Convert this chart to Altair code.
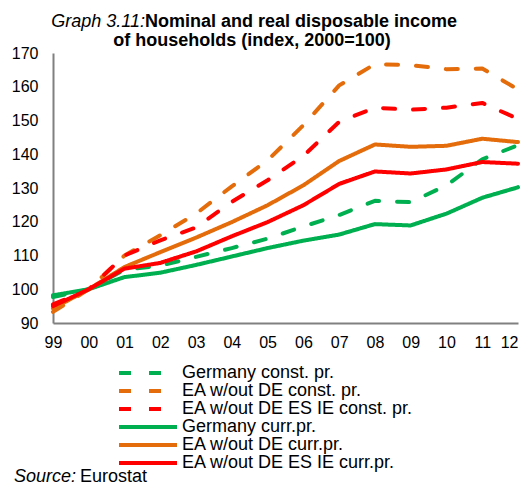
import altair as alt
import pandas as pd

years = ["99", "00", "01", "02", "03", "04", "05", "06", "07", "08", "09", "10", "11", "12"]

series_names = [
    "Germany const. pr.",
    "EA w/out DE const. pr.",
    "EA w/out DE ES IE const. pr.",
    "Germany curr.pr.",
    "EA w/out DE curr.pr.",
    "EA w/out DE ES IE curr.pr.",
]

de_const = [97.7, 100, 105.8, 107.0, 109.6, 112.2, 115.0, 118.6, 122.0, 126.2, 125.8, 130.8, 138.5, 142.7]
ea_const = [93.3, 100, 110.0, 116.0, 122.4, 130.5, 138.2, 148.6, 160.4, 166.7, 166.4, 165.2, 165.4, 159.2]
ea_x_const = [95.5, 100, 110.0, 114.5, 118.3, 125.9, 132.3, 139.5, 149.6, 153.8, 153.2, 153.8, 155.2, 150.5]
de_curr = [98.2, 100, 103.6, 104.9, 107.2, 109.7, 112.2, 114.4, 116.2, 119.3, 118.9, 122.4, 127.1, 130.2]
ea_curr = [94.3, 100, 106.6, 111.0, 115.3, 119.9, 124.9, 130.8, 138.0, 142.9, 142.2, 142.5, 144.6, 143.6]
ea_x_curr = [95.0, 100, 106.1, 107.8, 111.2, 115.7, 119.9, 124.9, 131.2, 134.9, 134.3, 135.5, 137.7, 137.2]

colors = ["#00B050", "#E46C0A", "#FF0000", "#00B050", "#E46C0A", "#FF0000"]
dashes = [[12, 18], [12, 18], [12, 18], [1, 0], [1, 0], [1, 0]]

title_italic = "Graph 3.11:"
title_bold_1 = "Nominal and real disposable income"
title_bold_2 = "of households (index, 2000=100)"
source_italic = "Source:"
source_text = "Eurostat"

all_values = [de_const, ea_const, ea_x_const, de_curr, ea_curr, ea_x_curr]
rows = []
for k, (name, vals) in enumerate(zip(series_names, all_values)):
    for yr, v in zip(years, vals):
        rows.append({"year": yr, "series": name, "value": v, "order": k})
df = pd.DataFrame(rows)

FONT = "Liberation Sans, Arial, sans-serif"

lines = alt.Chart(df).mark_line(strokeWidth=4, strokeCap="round", strokeJoin="round").encode(
    x=alt.X("year:O", sort=years, scale=alt.Scale(type="point", padding=0),
            axis=alt.Axis(title=None, ticks=False, grid=False, labelAngle=0,
                          labelFontSize=16, labelFont=FONT, labelColor="black",
                          labelPadding=11, domainColor="#808080", domainWidth=2,
                          labelAlign=alt.condition("datum.value == '12'", alt.value("right"), alt.value("center")))),
    y=alt.Y("value:Q", scale=alt.Scale(domain=[90, 170], nice=False, zero=False),
            axis=alt.Axis(title=None, ticks=False, grid=False, values=list(range(90, 171, 10)),
                          labelFontSize=16, labelFont=FONT, labelColor="black",
                          labelPadding=15, domainColor="#808080", domainWidth=2)),
    color=alt.Color("series:N", scale=alt.Scale(domain=series_names, range=colors),
                    legend=alt.Legend(title=None, orient="none", legendX=64, legendY=311,
                                      symbolType="stroke", symbolSize=3364, symbolStrokeWidth=4,
                                      labelFontSize=18, labelFont=FONT, labelColor="black",
                                      labelOffset=3, labelLimit=500, clipHeight=18, rowPadding=0)),
    strokeDash=alt.StrokeDash("series:N", scale=alt.Scale(domain=series_names, range=dashes)),
    order=alt.Order("order:Q"),
    detail="series:N",
)

def label(text, x, y, align, style, weight):
    return alt.Chart(pd.DataFrame({"t": [text]})).mark_text(
        align=align, baseline="alphabetic", fontSize=18, font=FONT,
        fontStyle=style, fontWeight=weight, color="black"
    ).encode(text="t:N", x=alt.value(x), y=alt.value(y))

t1 = label(title_italic, 92, -26, "right", "italic", "normal")
t2 = label(title_bold_1, 92, -26, "left", "normal", "bold")
t3 = label(title_bold_2, 199, -7, "center", "normal", "bold")
s1 = label(source_italic, -39, 429, "left", "italic", "normal")
s2 = label(source_text, 27, 429, "left", "normal", "normal")

chart = alt.layer(lines, t1, t2, t3, s1, s2).properties(
    width=465, height=270,
    autosize=alt.AutoSizeParams(type="none"),
    padding={"left": 45, "top": 45, "right": 4, "bottom": 163},
).configure_view(stroke=None)

chart.save("out.html", embed_options={"renderer": "svg", "actions": False})
